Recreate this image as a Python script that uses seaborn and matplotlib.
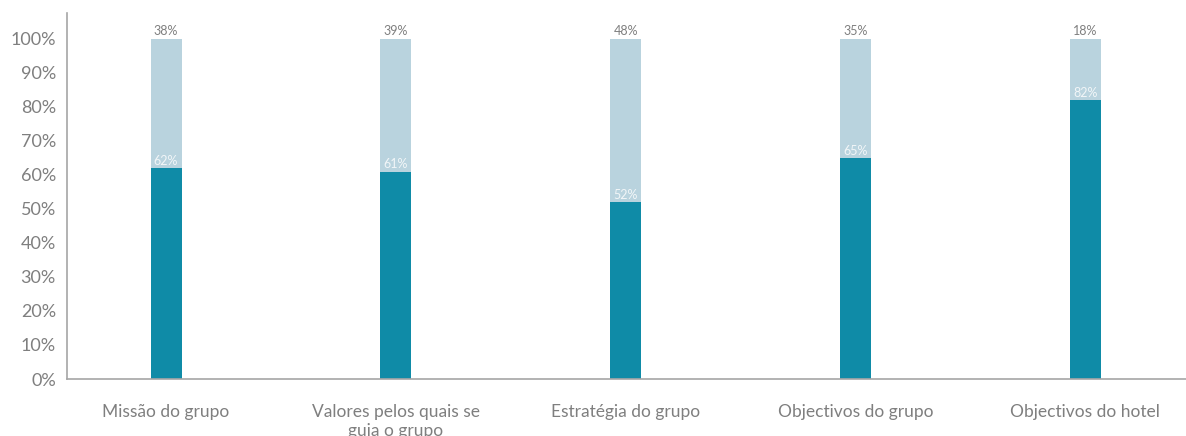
import matplotlib
matplotlib.use("Agg")
import matplotlib.pyplot as plt
import seaborn as sns
import pandas as pd

categories = ["Missão do grupo", "Valores pelos quais se\nguia o grupo",
              "Estratégia do grupo", "Objectivos do grupo", "Objectivos do hotel"]
sim = [62, 61, 52, 65, 82]
nao = [38, 39, 48, 35, 18]
y_ticks = [0, 10, 20, 30, 40, 50, 60, 70, 80, 90, 100]

dark = "#0F8BA7"
light = "#B9D3DE"
grey = "#7F7F7F"

sns.set_theme(style="white")
plt.rcParams["font.family"] = ["Lato", "DejaVu Sans"]

df = pd.DataFrame({"cat": categories, "sim": sim, "nao": nao})
df["total"] = df["sim"] + df["nao"]

fig = plt.figure(figsize=(11.86, 4.36), dpi=100)
ax = fig.add_axes([67 / 1186, 1 - 379 / 436, (1186 - 67) / 1186, (379 - 13) / 436])

sns.barplot(data=df, x="cat", y="total", color=light, width=0.135,
            saturation=1, ax=ax, edgecolor="none")
sns.barplot(data=df, x="cat", y="sim", color=dark, width=0.135,
            saturation=1, ax=ax, edgecolor="none")

for i, (s, n) in enumerate(zip(sim, nao)):
    ax.text(i, s + n + 0.5, f"{n}%", ha="center", va="bottom",
            fontsize=9, color=grey)
    ax.text(i, s + 0.3, f"{s}%", ha="center", va="bottom",
            fontsize=9, color="#F2F6F8")

ax.set_xlim(-0.431, 4.439)
ax.set_ylim(0, 107.6)
ax.set_yticks(y_ticks)
ax.set_yticklabels([f"{v}%" for v in y_ticks], fontsize=13, color=grey)
ax.tick_params(axis="x", labelsize=12.5, labelcolor=grey, pad=18, length=0)
ax.tick_params(axis="y", length=0, pad=8)
for lbl in ax.get_xticklabels():
    lbl.set_linespacing(1.25)
ax.set_xlabel("")
ax.set_ylabel("")

for side in ["top", "right"]:
    ax.spines[side].set_visible(False)
for side in ["left", "bottom"]:
    ax.spines[side].set_color("#A6A6A6")
    ax.spines[side].set_linewidth(1.2)

fig.savefig("out.png", dpi=100)
